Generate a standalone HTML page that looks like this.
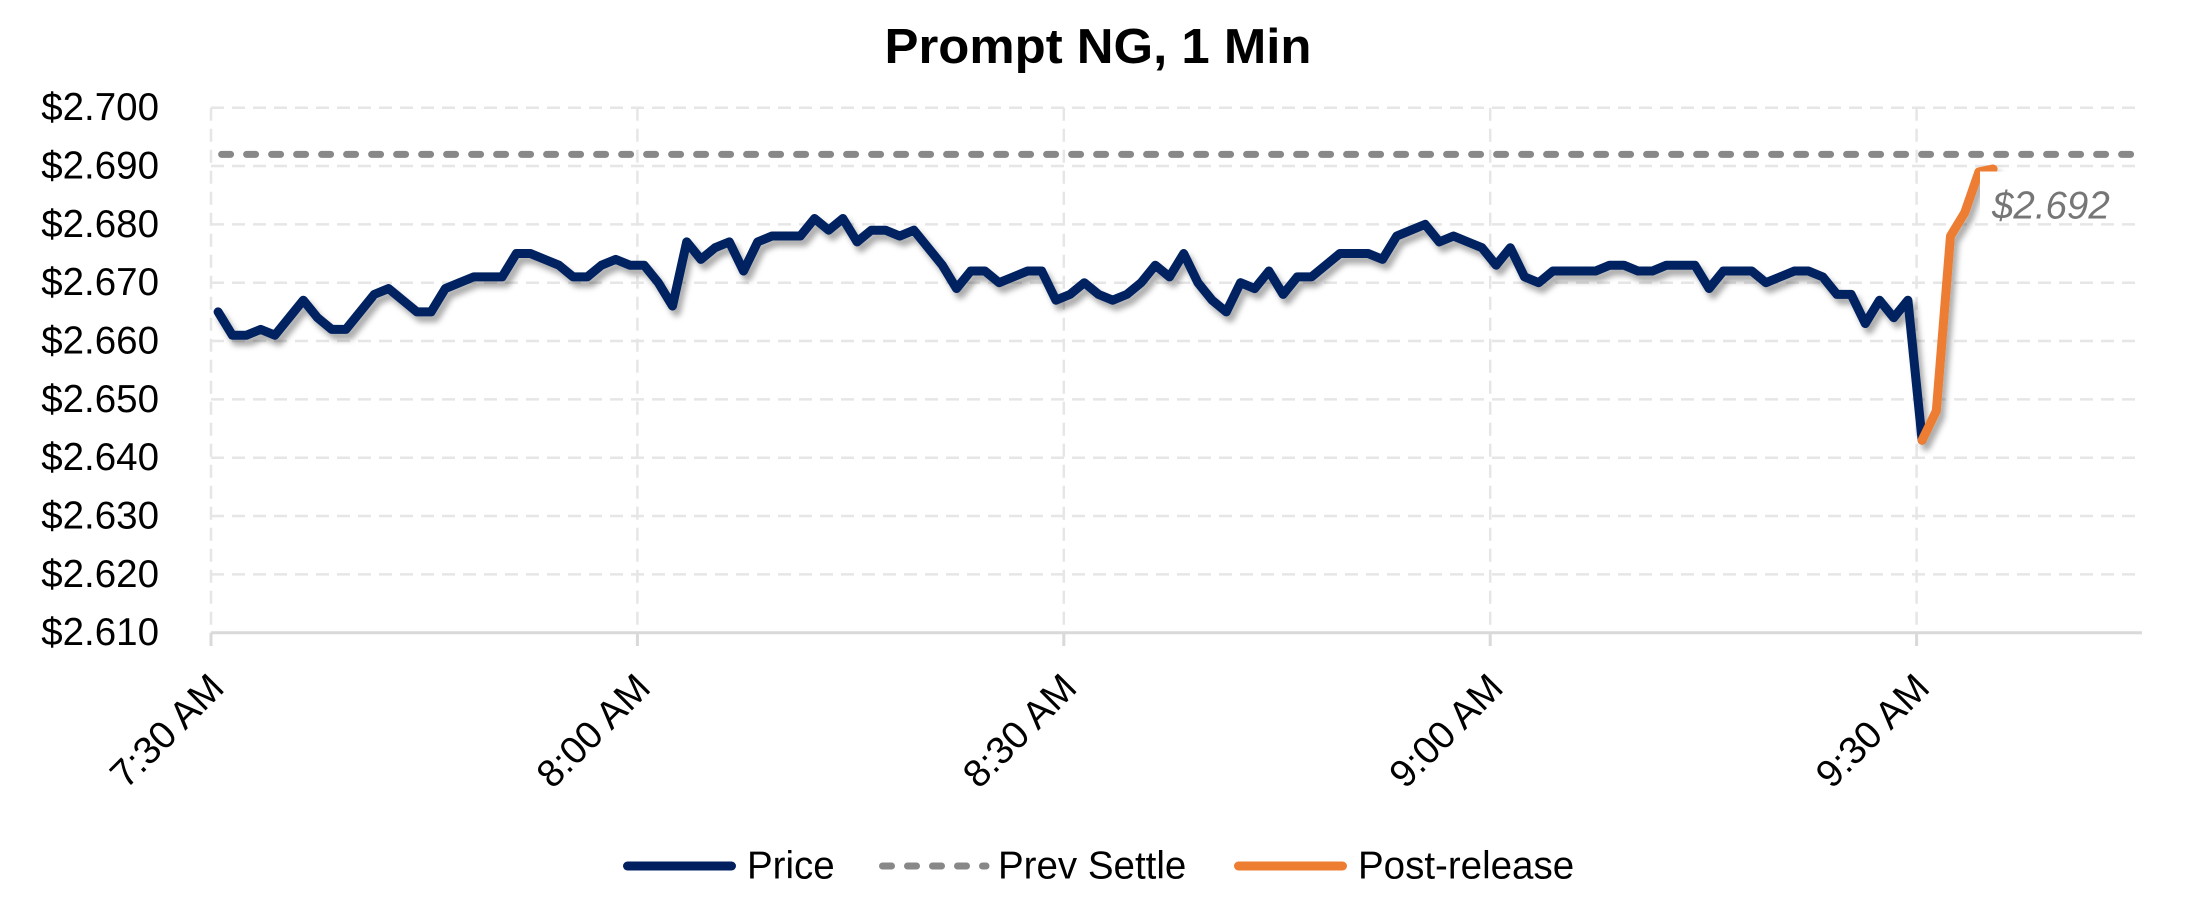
<!DOCTYPE html>
<html>
<head>
<meta charset="utf-8">
<style>
  html,body{margin:0;padding:0;background:#ffffff;}
  svg{display:block;}
  text{font-family:"Liberation Sans", sans-serif;}
</style>
</head>
<body>
<svg width="2199" height="902" viewBox="0 0 2199 902" xmlns="http://www.w3.org/2000/svg">
  <defs>
    <filter id="sh" x="-5%" y="-20%" width="110%" height="150%">
      <feDropShadow dx="4" dy="6" stdDeviation="3" flood-color="#000" flood-opacity="0.33"/>
    </filter>
  </defs>
  <rect x="0" y="0" width="2199" height="902" fill="#ffffff"/>

  <!-- Title -->
  <text x="1098" y="63" text-anchor="middle" font-size="49" font-weight="bold" fill="#000" textLength="427" lengthAdjust="spacingAndGlyphs">Prompt NG, 1 Min</text>

  <!-- Horizontal gridlines -->
  <g stroke="#e6e6e6" stroke-width="2.5" stroke-dasharray="13 8" fill="none">
    <line x1="211" y1="107.7" x2="2142" y2="107.7"/>
    <line x1="211" y1="166.0" x2="2142" y2="166.0"/>
    <line x1="211" y1="224.4" x2="2142" y2="224.4"/>
    <line x1="211" y1="282.7" x2="2142" y2="282.7"/>
    <line x1="211" y1="341.0" x2="2142" y2="341.0"/>
    <line x1="211" y1="399.4" x2="2142" y2="399.4"/>
    <line x1="211" y1="457.7" x2="2142" y2="457.7"/>
    <line x1="211" y1="516.0" x2="2142" y2="516.0"/>
    <line x1="211" y1="574.4" x2="2142" y2="574.4"/>
  </g>
  <!-- Vertical gridlines -->
  <g stroke="#e6e6e6" stroke-width="2.5" stroke-dasharray="13 8" fill="none">
    <line x1="211" y1="107.7" x2="211" y2="632.7"/>
    <line x1="637.4" y1="107.7" x2="637.4" y2="632.7"/>
    <line x1="1063.8" y1="107.7" x2="1063.8" y2="632.7"/>
    <line x1="1490.2" y1="107.7" x2="1490.2" y2="632.7"/>
    <line x1="1916.6" y1="107.7" x2="1916.6" y2="632.7"/>
  </g>
  <!-- Axis line and ticks -->
  <g stroke="#d9d9d9" stroke-width="3" fill="none">
    <line x1="211" y1="632.7" x2="2142" y2="632.7"/>
    <line x1="211" y1="632.7" x2="211" y2="646"/>
    <line x1="637.4" y1="632.7" x2="637.4" y2="646"/>
    <line x1="1063.8" y1="632.7" x2="1063.8" y2="646"/>
    <line x1="1490.2" y1="632.7" x2="1490.2" y2="646"/>
    <line x1="1916.6" y1="632.7" x2="1916.6" y2="646"/>
  </g>

  <!-- Y labels -->
  <g font-size="38.5" fill="#000" text-anchor="end">
    <text x="159" y="120.2">$2.700</text>
    <text x="159" y="178.5">$2.690</text>
    <text x="159" y="236.9">$2.680</text>
    <text x="159" y="295.2">$2.670</text>
    <text x="159" y="353.5">$2.660</text>
    <text x="159" y="411.9">$2.650</text>
    <text x="159" y="470.2">$2.640</text>
    <text x="159" y="528.5">$2.630</text>
    <text x="159" y="586.9">$2.620</text>
    <text x="159" y="645.2">$2.610</text>
  </g>

  <!-- X labels -->
  <g font-size="38.5" fill="#000" text-anchor="end">
    <text transform="translate(226,690) rotate(-45)">7:30 AM</text>
    <text transform="translate(652.4,690) rotate(-45)">8:00 AM</text>
    <text transform="translate(1078.8,690) rotate(-45)">8:30 AM</text>
    <text transform="translate(1505.2,690) rotate(-45)">9:00 AM</text>
    <text transform="translate(1931.6,690) rotate(-45)">9:30 AM</text>
  </g>

  <!-- Prev Settle -->
  <line x1="221.6" y1="154.4" x2="2133" y2="154.4" stroke="#888888" stroke-width="7" stroke-linecap="round" stroke-dasharray="9 16"/>

  <!-- Price series -->
  <g filter="url(#sh)">
    <g transform="matrix(14.2 0 0 -5.8333 218.1 691.03)">
      <polyline fill="none" stroke="#002060" stroke-width="9" stroke-linejoin="round" stroke-linecap="round" vector-effect="non-scaling-stroke"
        points="0,65 1,61 2,61 3,62 4,61 5,64 6,67 7,64 8,62 9,62 10,65 11,68 12,69 13,67 14,65 15,65 16,69 17,70 18,71 19,71 20,71 21,75 22,75 23,74 24,73 25,71 26,71 27,73 28,74 29,73 30,73 31,70 32,66 33,77 34,74 35,76 36,77 37,72 38,77 39,78 40,78 41,78 42,81 43,79 44,81 45,77 46,79 47,79 48,78 49,79 50,76 51,73 52,69 53,72 54,72 55,70 56,71 57,72 58,72 59,67 60,68 61,70 62,68 63,67 64,68 65,70 66,73 67,71 68,75 69,70 70,67 71,65 72,70 73,69 74,72 75,68 76,71 77,71 78,73 79,75 80,75 81,75 82,74 83,78 84,79 85,80 86,77 87,78 88,77 89,76 90,73 91,76 92,71 93,70 94,72 95,72 96,72 97,72 98,73 99,73 100,72 101,72 102,73 103,73 104,73 105,69 106,72 107,72 108,72 109,70 110,71 111,72 112,72 113,71 114,68 115,68 116,63 117,67 118,64 119,67 120,43"/>
      <polyline fill="none" stroke="#ED7D31" stroke-width="9" stroke-linejoin="round" stroke-linecap="round" vector-effect="non-scaling-stroke"
        points="120,43 121,48 122,78 123,82 124,89 125,89.5"/>
    </g>
  </g>

  <!-- Data label -->
  <rect x="1980" y="171.5" width="138" height="50" fill="#ffffff"/>
  <text x="1992" y="218.3" font-size="38.5" font-style="italic" fill="#767676">$2.692</text>

  <!-- Legend -->
  <line x1="627.5" y1="866" x2="731.5" y2="866" stroke="#002060" stroke-width="9" stroke-linecap="round"/>
  <text x="747" y="878.3" font-size="38.5" fill="#000">Price</text>
  <line x1="882.5" y1="866" x2="986" y2="866" stroke="#888888" stroke-width="7" stroke-linecap="round" stroke-dasharray="9 16"/>
  <text x="998" y="878.3" font-size="38.5" fill="#000">Prev Settle</text>
  <line x1="1238.5" y1="866" x2="1342.5" y2="866" stroke="#ED7D31" stroke-width="9" stroke-linecap="round"/>
  <text x="1358" y="878.3" font-size="38.5" fill="#000">Post-release</text>
</svg>
</body>
</html>
